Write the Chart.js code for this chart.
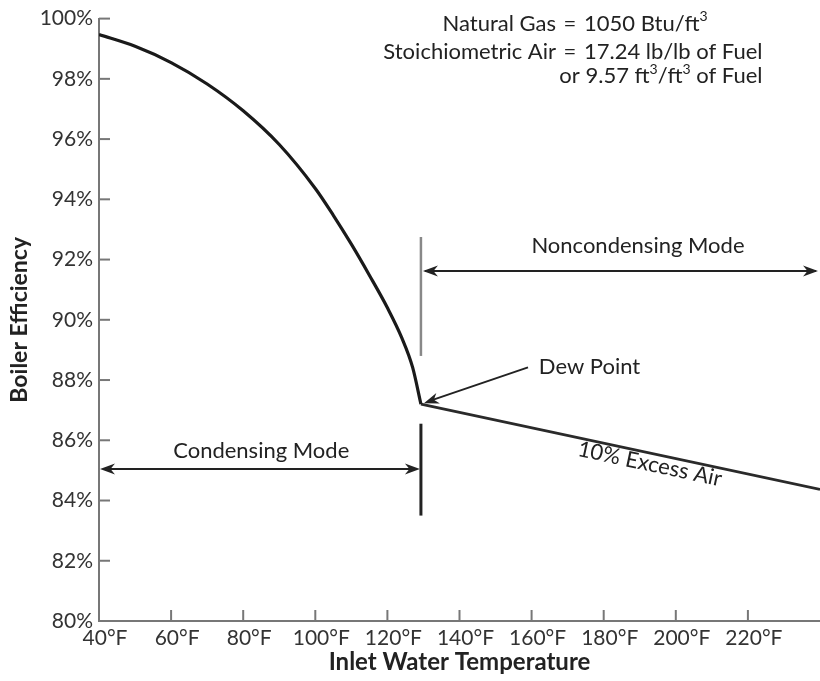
<!DOCTYPE html>
<html>
<head>
<meta charset="utf-8">
<script src="https://cdn.jsdelivr.net/npm/chart.js@4.4.1/dist/chart.umd.min.js"></script>
<style>
  html, body { margin: 0; padding: 0; background: #fff; }
  #wrap { width: 820px; height: 681px; position: relative; }
</style>
</head>
<body>
<div id="wrap"><canvas id="chart"></canvas></div>
<script>
// inlet water temperature (°F) vs boiler efficiency (%)
var condTemps = [40, 50, 60, 70, 80, 90, 100, 105, 110, 115, 120, 124, 127, 129.3];
var condEff = [99.47, 99.08, 98.54, 97.83, 96.94, 95.82, 94.36, 93.47, 92.51, 91.48, 90.40, 89.40, 88.42, 87.2];
var noncondTemps = [129.3, 240];
var noncondEff = [87.2, 84.37];

var xTicks = [40, 60, 80, 100, 120, 140, 160, 180, 200, 220];
var yTicks = [80, 82, 84, 86, 88, 90, 92, 94, 96, 98, 100];

var dewPoint = 129.3;
var FONT = 'Lato, "Open Sans", sans-serif';
var INK = '#222';

function toPoints(xs, ys) {
    return xs.map(function(x, i) { return { x: x, y: ys[i] }; });
}

function arrowHead(ctx, x1, y1, x2, y2) {
    var len = 15, half = 5.5;
    var a = Math.atan2(y2 - y1, x2 - x1);
    var c = Math.cos(a), s = Math.sin(a);
    ctx.beginPath();
    ctx.moveTo(x2, y2);
    ctx.lineTo(x2 - len * c + half * s, y2 - len * s - half * c);
    ctx.lineTo(x2 - len * 0.7 * c, y2 - len * 0.7 * s);
    ctx.lineTo(x2 - len * c - half * s, y2 - len * s + half * c);
    ctx.closePath();
    ctx.fill();
}

function line(ctx, x1, y1, x2, y2) {
    ctx.beginPath();
    ctx.moveTo(x1, y1);
    ctx.lineTo(x2, y2);
    ctx.stroke();
}

// text with superscript pieces; parts = [[text, isSup], ...]
function richWidth(ctx, parts) {
    var w = 0;
    parts.forEach(function(p) {
        ctx.font = (p[1] ? '14px ' : '22px ') + FONT;
        w += ctx.measureText(p[0]).width;
    });
    return w;
}
function drawRich(ctx, parts, x, y, align) {
    var w = richWidth(ctx, parts);
    var cx = align === 'right' ? x - w : x;
    ctx.textAlign = 'left';
    parts.forEach(function(p) {
        ctx.font = (p[1] ? '14px ' : '22px ') + FONT;
        ctx.fillText(p[0], cx, p[1] ? y - 7 : y);
        cx += ctx.measureText(p[0]).width;
    });
    ctx.font = '22px ' + FONT;
    return w;
}

var annotations = {
    id: 'annotations',
    afterDatasetsDraw: function(chart) {
        var ctx = chart.ctx, area = chart.chartArea;
        var xs = chart.scales.x, ys = chart.scales.y;
        var X = function(v) { return xs.getPixelForValue(v); };
        var Y = function(v) { return ys.getPixelForValue(v); };
        ctx.save();

        // tick marks point into the plot
        ctx.strokeStyle = '#777';
        ctx.lineWidth = 2;
        yTicks.forEach(function(v) {
            if (v === 80) return;
            line(ctx, area.left, Y(v), area.left + 11, Y(v));
        });
        xTicks.forEach(function(v) {
            if (v === 40) return;
            line(ctx, X(v), area.bottom, X(v), area.bottom - 11);
        });

        var dx = X(dewPoint);

        // mode boundary markers
        ctx.strokeStyle = '#888';
        ctx.lineWidth = 2.5;
        line(ctx, dx, Y(92.75), dx, Y(88.8));
        ctx.strokeStyle = INK;
        ctx.lineWidth = 3;
        line(ctx, dx, Y(86.55), dx, Y(83.5));

        // double arrows
        ctx.strokeStyle = INK;
        ctx.fillStyle = INK;
        ctx.lineWidth = 2;
        var cy = Y(85.05);
        line(ctx, area.left + 4, cy, dx - 4, cy);
        arrowHead(ctx, dx, cy, area.left + 1, cy);
        arrowHead(ctx, area.left, cy, dx - 1, cy);
        var ny = Y(91.62);
        line(ctx, dx + 4, ny, area.right - 4, ny);
        arrowHead(ctx, area.right, ny, dx + 2, ny);
        arrowHead(ctx, dx, ny, area.right - 2, ny);

        // dew point pointer
        var px = X(159), py = Y(88.42), tx = dx + 3, ty = Y(87.2) - 1;
        line(ctx, px, py, tx + 8, ty - 3);
        arrowHead(ctx, px, py, tx, ty);

        ctx.font = '22px ' + FONT;
        ctx.fillStyle = INK;
        ctx.textBaseline = 'middle';
        ctx.textAlign = 'center';
        ctx.fillText('Condensing Mode', X(85), Y(85.64));
        ctx.fillText('Noncondensing Mode', X(189.5), Y(92.44));
        ctx.textAlign = 'left';
        ctx.fillText('Dew Point', X(162), Y(88.42));

        // label along the excess air line
        var ang = Math.atan2(Y(noncondEff[1]) - Y(noncondEff[0]), X(noncondTemps[1]) - X(noncondTemps[0]));
        ctx.save();
        ctx.translate(X(192.8), Y(85.21));
        ctx.rotate(ang);
        ctx.textAlign = 'center';
        ctx.fillText('10% Excess Air', 0, 0);
        ctx.restore();

        // fuel note, lined up on the equals signs
        var eq = X(170.65);
        var y1 = Y(99.83), y2 = Y(98.91), y3 = Y(98.09);
        ctx.textAlign = 'right';
        ctx.fillText('Natural Gas', eq - 14, y1);
        ctx.fillText('Stoichiometric Air', eq - 14, y2);
        ctx.textAlign = 'center';
        ctx.fillText('=', eq, y1);
        ctx.fillText('=', eq, y2);
        drawRich(ctx, [['1050 Btu/ft', false], ['3', true]], eq + 14, y1, 'left');
        var w2 = drawRich(ctx, [['17.24 lb/lb of Fuel', false]], eq + 14, y2, 'left');
        drawRich(ctx, [['or 9.57 ft', false], ['3', true], ['/ft', false], ['3', true], [' of Fuel', false]],
            eq + 14 + w2, y3, 'right');

        ctx.restore();
    }
};

var ctx = document.getElementById('chart').getContext('2d');
var chart = new Chart(ctx, {
    type: 'line',
    data: {
        datasets: [{
            data: toPoints(condTemps, condEff),
            borderColor: '#1a1a1a',
            borderWidth: 3.2,
            pointRadius: 0,
            cubicInterpolationMode: 'monotone',
            fill: false
        }, {
            data: toPoints(noncondTemps, noncondEff),
            borderColor: '#2a2a2a',
            borderWidth: 2.6,
            pointRadius: 0,
            fill: false
        }]
    },
    options: {
        responsive: true,
        maintainAspectRatio: false,
        animation: false,
        layout: { padding: { top: 15, right: 0, left: 0, bottom: 0 } },
        plugins: {
            legend: { display: false },
            tooltip: { enabled: false }
        },
        scales: {
            x: {
                type: 'linear',
                min: 40,
                max: 240,
                afterBuildTicks: function(s) { s.ticks = xTicks.map(function(v) { return { value: v }; }); },
                afterFit: function(s) { s.height = 60; },
                grid: { display: false, drawTicks: false },
                border: { display: true, color: '#777', width: 2 },
                ticks: {
                    color: '#333',
                    font: { family: FONT, size: 21 },
                    padding: 5,
                    maxRotation: 0,
                    autoSkip: false,
                    labelOffset: 6,
                    callback: function(v) { return v + '°F'; }
                },
                title: {
                    display: true,
                    text: 'Inlet Water Temperature',
                    color: INK,
                    font: { family: FONT, size: 24, weight: 'bold' },
                    padding: { top: 0, bottom: 4 }
                }
            },
            y: {
                min: 80,
                max: 100,
                afterBuildTicks: function(s) { s.ticks = yTicks.map(function(v) { return { value: v }; }); },
                afterFit: function(s) { s.width = 99; },
                grid: { display: false, drawTicks: false },
                border: { display: true, color: '#777', width: 2 },
                ticks: {
                    color: '#333',
                    font: { family: FONT, size: 21 },
                    padding: 6,
                    callback: function(v) { return v + '%'; }
                },
                title: {
                    display: true,
                    text: 'Boiler Efficiency',
                    color: INK,
                    font: { family: FONT, size: 23, weight: 'bold' },
                    padding: { top: 6, bottom: 0 }
                }
            }
        }
    },
    plugins: [annotations]
});
</script>
</body>
</html>
